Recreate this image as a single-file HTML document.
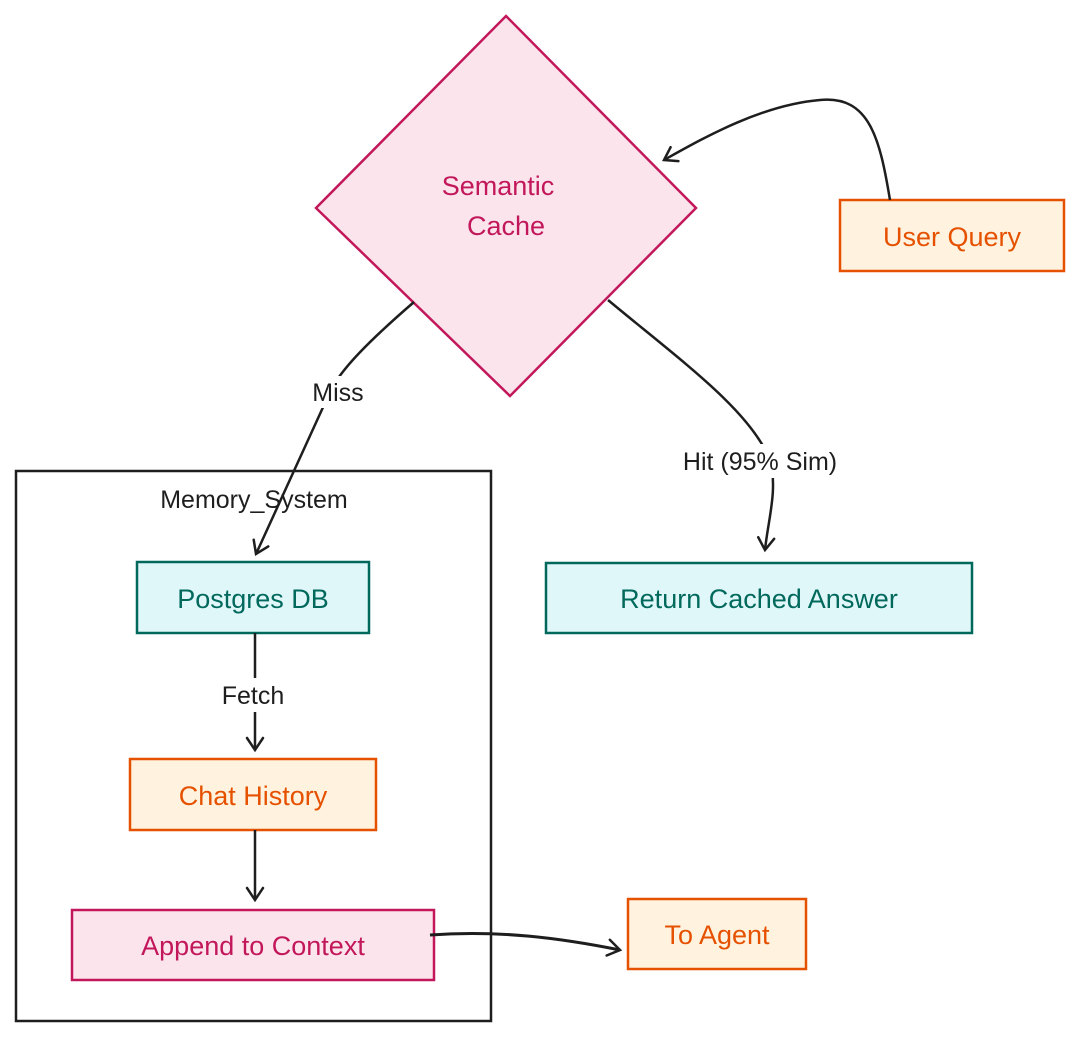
<!DOCTYPE html>
<html><head><meta charset="utf-8"><style>
html,body{margin:0;padding:0;background:#fff;}
svg{display:block;}
text{font-family:"Liberation Sans",sans-serif;}
</style></head><body>
<svg width="1080" height="1037" viewBox="0 0 1080 1037" xmlns="http://www.w3.org/2000/svg">
<defs>
<marker id="ah" markerWidth="20" markerHeight="20" refX="14" refY="10" orient="auto" markerUnits="userSpaceOnUse">
<path d="M2,2 L14,10 L2,18" fill="none" stroke="#1e1e1e" stroke-width="2.5" stroke-linecap="round"/>
</marker>
</defs>
<!-- Diamond -->
<polygon points="506,16 696,208 510,396 316,208" fill="#fce4ec" stroke="#c2185b" stroke-width="2.5"/>
<text x="498" y="195" font-size="27" fill="#c2185b" text-anchor="middle">Semantic</text>
<text x="506" y="235" font-size="27" fill="#c2185b" text-anchor="middle">Cache</text>
<!-- User query -->
<rect x="840" y="200" width="224" height="71" fill="#fff3e0" stroke="#e65100" stroke-width="2.5"/>
<text x="952" y="246" font-size="27" fill="#e65100" text-anchor="middle">User Query</text>
<path d="M890,200 C880,140 870,95 820,100 C760,105 700,140 664,160" fill="none" stroke="#1e1e1e" stroke-width="2.5" marker-end="url(#ah)"/>
<!-- Memory system -->
<rect x="16" y="471" width="475" height="550" fill="none" stroke="#1e1e1e" stroke-width="2.5"/>
<text x="254" y="508" font-size="25" fill="#1e1e1e" text-anchor="middle">Memory_System</text>
<!-- Miss -->
<path d="M414,302 C370,340 340,370 330,392 L256,554" fill="none" stroke="#1e1e1e" stroke-width="2.5" marker-end="url(#ah)"/>
<rect x="300" y="376" width="76" height="32" fill="#fff"/>
<text x="338" y="401" font-size="25" fill="#1e1e1e" text-anchor="middle">Miss</text>
<!-- Postgres -->
<rect x="137" y="562" width="232" height="71" fill="#e0f7fa" stroke="#00695c" stroke-width="2.5"/>
<text x="253" y="608" font-size="27" fill="#00695c" text-anchor="middle">Postgres DB</text>
<path d="M255,633 L255,750" fill="none" stroke="#1e1e1e" stroke-width="2.5" marker-end="url(#ah)"/>
<rect x="205" y="678" width="98" height="34" fill="#fff"/>
<text x="253" y="704" font-size="25" fill="#1e1e1e" text-anchor="middle">Fetch</text>
<!-- Chat history -->
<rect x="130" y="759" width="246" height="71" fill="#fff3e0" stroke="#e65100" stroke-width="2.5"/>
<text x="253" y="805" font-size="27" fill="#e65100" text-anchor="middle">Chat History</text>
<path d="M255,830 L255,900" fill="none" stroke="#1e1e1e" stroke-width="2.5" marker-end="url(#ah)"/>
<!-- Append -->
<rect x="72" y="910" width="362" height="70" fill="#fce4ec" stroke="#c2185b" stroke-width="2.5"/>
<text x="253" y="955" font-size="27" fill="#c2185b" text-anchor="middle">Append to Context</text>
<path d="M430,935 C500,930 560,938 620,950" fill="none" stroke="#1e1e1e" stroke-width="3" marker-end="url(#ah)"/>
<!-- To Agent -->
<rect x="628" y="899" width="178" height="70" fill="#fff3e0" stroke="#e65100" stroke-width="2.5"/>
<text x="717" y="944" font-size="27" fill="#e65100" text-anchor="middle">To Agent</text>
<!-- Hit -->
<path d="M608,300 C680,360 750,410 770,460 C778,490 768,520 765,550" fill="none" stroke="#1e1e1e" stroke-width="2.5" marker-end="url(#ah)"/>
<rect x="648" y="444" width="222" height="34" fill="#fff"/>
<text x="760" y="470" font-size="25" fill="#1e1e1e" text-anchor="middle">Hit (95% Sim)</text>
<!-- Return cached -->
<rect x="546" y="563" width="426" height="70" fill="#e0f7fa" stroke="#00695c" stroke-width="2.5"/>
<text x="759" y="608" font-size="27" fill="#00695c" text-anchor="middle">Return Cached Answer</text>
</svg>
</body></html>
